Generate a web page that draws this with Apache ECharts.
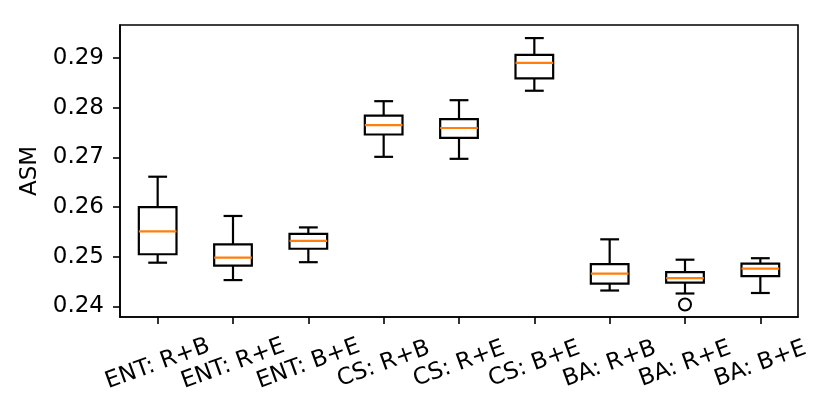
<!DOCTYPE html>
<html>
<head>
<meta charset="utf-8">
<script src="https://cdn.jsdelivr.net/npm/echarts@6/dist/echarts.min.js"></script>
<style>html,body{margin:0;padding:0;background:#fff;}#c{width:830px;height:415px;}</style>
</head>
<body>
<div id="c"></div>
<script>
var categories = ['ENT: R+B','ENT: R+E','ENT: B+E','CS: R+B','CS: R+E','CS: B+E','BA: R+B','BA: R+E','BA: B+E'];
var whiskerLow  = [0.2488,0.2453,0.2489,0.2701,0.2697,0.2834,0.2432,0.2426,0.2427];
var q1          = [0.2505,0.2482,0.2516,0.2746,0.2739,0.2859,0.2446,0.2448,0.2461];
var median      = [0.2551,0.2498,0.2532,0.2765,0.2759,0.2890,0.2466,0.2457,0.2476];
var q3          = [0.2600,0.2525,0.2546,0.2784,0.2777,0.2906,0.2485,0.2469,0.2486];
var whiskerHigh = [0.2661,0.2582,0.2559,0.2813,0.2815,0.2940,0.2535,0.2494,0.2497];
var outlierCats = ['BA: R+E'];
var outlierVals = [0.2404];
var yTicks = [0.24,0.25,0.26,0.27,0.28,0.29];
var yMin = 0.23787, yMax = 0.29663;

var boxData = categories.map(function(c,i){return [i, whiskerLow[i], q1[i], median[i], q3[i], whiskerHigh[i]];});
var outData = outlierCats.map(function(c,i){return [categories.indexOf(c), outlierVals[i]];});

var FONT = 'DejaVu Sans';
var FS = 23;
var chart = echarts.init(document.getElementById('c'), null, {renderer:'canvas'});
chart.setOption({
  animation:false,
  backgroundColor:'#fff',
  grid:{left:120, right:32, top:25, bottom:98, show:true, borderColor:'#000', borderWidth:1.6, backgroundColor:'transparent'},
  xAxis:{
    type:'category', data:categories, boundaryGap:true,
    axisLine:{show:true, lineStyle:{color:'#000', width:1.6}},
    axisTick:{show:true, alignWithLabel:true, length:7, lineStyle:{color:'#000', width:1.6}},
    axisLabel:{interval:0, rotate:20, align:'center', verticalAlign:'middle', margin:47, color:'#000', fontSize:FS, fontFamily:FONT, hideOverlap:false},
    splitLine:{show:false}
  },
  yAxis:{
    type:'value', min:yMin, max:yMax,
    name:'ASM', nameLocation:'middle', nameRotate:90, nameGap:73,
    nameTextStyle:{color:'#000', fontSize:FS, fontFamily:FONT},
    axisLine:{show:true, lineStyle:{color:'#000', width:1.6}},
    axisTick:{show:true, length:7, customValues:yTicks, lineStyle:{color:'#000', width:1.6}},
    axisLabel:{customValues:yTicks, margin:16, color:'#000', fontSize:FS, fontFamily:FONT, formatter:function(v){return v.toFixed(2);}},
    splitLine:{show:false}
  },
  series:[
    {
      type:'custom',
      data:boxData,
      encode:{x:0, y:[1,2,3,4,5]},
      renderItem:function(params, api){
        var x = api.value(0);
        var pLow = api.coord([x, api.value(1)]);
        var pQ1 = api.coord([x, api.value(2)]);
        var pMed = api.coord([x, api.value(3)]);
        var pQ3 = api.coord([x, api.value(4)]);
        var pHigh = api.coord([x, api.value(5)]);
        var bw = api.size([1,0])[0]*0.5;
        var cw = bw/2;
        var cx = pMed[0];
        var ls = {stroke:'#000', lineWidth:2.2, fill:null};
        return {type:'group', children:[
          {type:'line', shape:{x1:cx, y1:pQ1[1], x2:cx, y2:pLow[1]}, style:ls},
          {type:'line', shape:{x1:cx, y1:pQ3[1], x2:cx, y2:pHigh[1]}, style:ls},
          {type:'line', shape:{x1:cx-cw/2, y1:pLow[1], x2:cx+cw/2, y2:pLow[1]}, style:ls},
          {type:'line', shape:{x1:cx-cw/2, y1:pHigh[1], x2:cx+cw/2, y2:pHigh[1]}, style:ls},
          {type:'rect', shape:{x:cx-bw/2, y:pQ3[1], width:bw, height:pQ1[1]-pQ3[1]}, style:{stroke:'#000', lineWidth:2.2, fill:'rgba(0,0,0,0)'}},
          {type:'line', shape:{x1:cx-bw/2, y1:pMed[1], x2:cx+bw/2, y2:pMed[1]}, style:{stroke:'#ff7f0e', lineWidth:2.2}}
        ]};
      },
      z:3
    },
    {
      type:'scatter',
      data:outData,
      symbol:'circle', symbolSize:12,
      itemStyle:{color:'rgba(255,255,255,0)', borderColor:'#000', borderWidth:2, opacity:1},
      z:4
    }
  ]
});
</script>
</body>
</html>
